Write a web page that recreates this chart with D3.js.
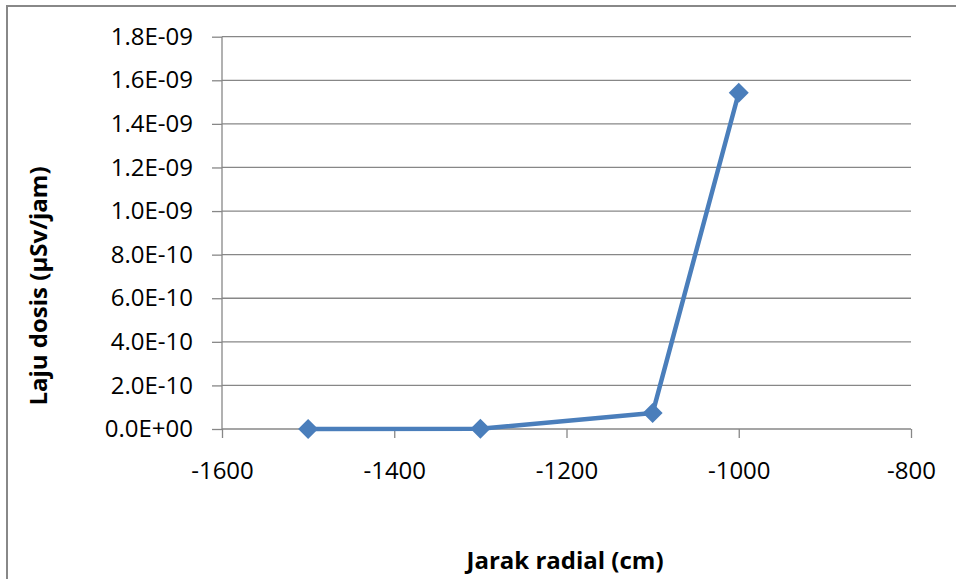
<!DOCTYPE html>
<html><head><meta charset="utf-8">
<script src="https://cdn.jsdelivr.net/npm/d3@7"></script>
<style>body{margin:0;background:#fff}svg{display:block}</style>
</head><body>
<svg id="c" width="956" height="579"></svg>
<script>
const xValues = [-1500, -1300, -1100, -1000];
const yValues = [0, 1e-12, 7.3e-11, 1.543e-9];
const xTicks = [-1600, -1400, -1200, -1000, -800];
const yTicks = [0, 2e-10, 4e-10, 6e-10, 8e-10, 1e-9, 1.2e-9, 1.4e-9, 1.6e-9, 1.8e-9];
const yTickLabels = ["0.0E+00","2.0E-10","4.0E-10","6.0E-10","8.0E-10","1.0E-09","1.2E-09","1.4E-09","1.6E-09","1.8E-09"];
const xTitle = "Jarak radial (cm)";
const yTitle = "Laju dosis (µSv/jam)";

const svg = d3.select("#c");
const font = "'Open Sans', 'Liberation Sans', sans-serif";
const L = 222, R = 911, T = 36.7, B = 429;

svg.append("rect").attr("x",7).attr("y",6).attr("width",1000).attr("height",1000)
  .attr("fill","#fff").attr("stroke","#888").attr("stroke-width",2);

const x = d3.scaleLinear().domain([-1600,-800]).range([L,R]);
const y = d3.scaleLinear().domain([0,1.8e-9]).range([B,T]);

// gridlines
svg.append("g").selectAll("line").data(yTicks.slice(1)).join("line")
  .attr("x1",L).attr("x2",R).attr("y1",d=>y(d)).attr("y2",d=>y(d))
  .attr("stroke","#878787").attr("stroke-width",1.3);

// y axis
const ya = svg.append("g").attr("transform",`translate(${L},0)`)
  .call(d3.axisLeft(y).tickValues(yTicks).tickSize(10).tickPadding(19)
    .tickFormat((d,i)=>yTickLabels[i]));
ya.select(".domain").attr("stroke","#878787").attr("stroke-width",1.3).attr("d",`M0,${T}V${B}`);
ya.selectAll(".tick line").attr("stroke","#878787").attr("stroke-width",1.3);
ya.selectAll("text").attr("font-family",font).attr("font-size",24).attr("fill","#000");

// x axis
const xa = svg.append("g").attr("transform",`translate(0,${B})`)
  .call(d3.axisBottom(x).tickValues(xTicks).tickSize(9).tickPadding(24).tickFormat(d=>String(d)));
xa.select(".domain").attr("stroke","#878787").attr("stroke-width",1.3).attr("d",`M${L},0H${R}`);
xa.selectAll(".tick line").attr("stroke","#878787").attr("stroke-width",1.3);
xa.selectAll("text").attr("font-family",font).attr("font-size",24).attr("fill","#000");

// line
const pts = xValues.map((v,i)=>[v,yValues[i]]);
svg.append("path").datum(pts)
  .attr("d", d3.line().x(d=>x(d[0])).y(d=>y(d[1])))
  .attr("fill","none").attr("stroke","#4a7ebb").attr("stroke-width",4.5).attr("stroke-linejoin","round");
svg.append("g").selectAll("path").data(pts).join("path")
  .attr("transform",d=>`translate(${x(d[0])},${y(d[1])})`)
  .attr("d","M0,-10L10,0L0,10L-10,0Z").attr("fill","#4a7ebb");

// titles
svg.append("text").attr("x",565).attr("y",569).attr("text-anchor","middle")
  .attr("font-family",font).attr("font-weight","bold").attr("font-size",24).text(xTitle);
svg.append("text").attr("transform","translate(47,286) rotate(-90)").attr("text-anchor","middle")
  .attr("font-family",font).attr("font-weight","bold").attr("font-size",24).text(yTitle);
</script>
</body></html>
